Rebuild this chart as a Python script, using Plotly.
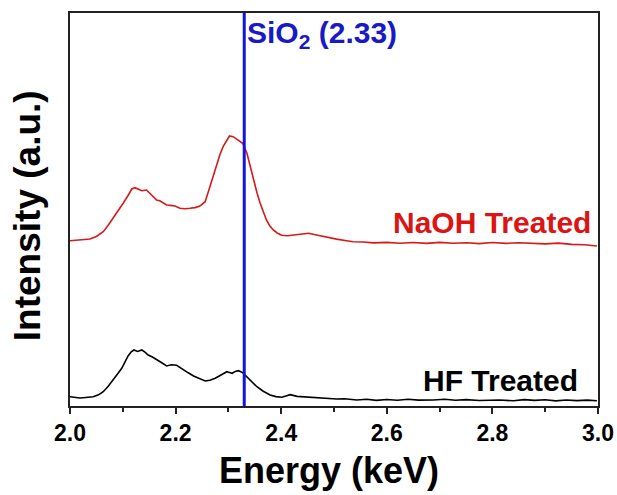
import plotly.graph_objects as go

# ---- data ----
energy_naoh = [2.000, 2.010, 2.019, 2.028, 2.038, 2.050, 2.063, 2.072, 2.082, 2.092, 2.101, 2.110,
               2.117, 2.123, 2.130, 2.136, 2.145, 2.150, 2.155, 2.164, 2.170, 2.176, 2.183, 2.190,
               2.199, 2.208, 2.218, 2.227, 2.237, 2.246, 2.256, 2.265, 2.272, 2.278, 2.284, 2.290,
               2.296, 2.302, 2.309, 2.316, 2.322, 2.327, 2.335, 2.341, 2.347, 2.354, 2.360, 2.366,
               2.372, 2.378, 2.385, 2.393, 2.401, 2.412, 2.423, 2.437, 2.452, 2.469, 2.486, 2.505,
               2.524, 2.536, 2.555, 2.575, 2.600, 2.625, 2.650, 2.675, 2.700, 2.725, 2.751, 2.775,
               2.800, 2.825, 2.850, 2.877, 2.900, 2.925, 2.950, 2.975, 2.998]
int_naoh = [165.3, 165.8, 166.0, 166.4, 167.0, 169.5, 174.3, 180.5, 188.0, 195.5, 203.0, 210.5,
            217.0, 218.3, 217.0, 215.3, 216.0, 213.2, 211.0, 206.0, 205.3, 203.6, 201.0, 200.6,
            200.0, 197.7, 197.2, 197.7, 198.4, 200.0, 204.3, 219.3, 232.0, 243.0, 251.5, 259.3,
            265.0, 270.0, 269.3, 266.7, 265.2, 262.7, 253.0, 240.0, 226.0, 213.5, 203.0, 194.0,
            186.0, 180.5, 176.0, 172.8, 170.7, 170.2, 170.7, 171.6, 172.7, 170.8, 168.7, 166.9,
            165.3, 164.3, 164.0, 163.1, 163.6, 162.7, 163.5, 162.6, 163.6, 162.8, 163.3, 162.4,
            163.5, 162.6, 163.2, 162.7, 162.1, 162.9, 161.6, 161.2, 160.0]

energy_hf = [2.000, 2.010, 2.019, 2.030, 2.044, 2.054, 2.063, 2.072, 2.082, 2.090, 2.098, 2.104,
             2.110, 2.116, 2.121, 2.128, 2.136, 2.142, 2.148, 2.156, 2.164, 2.173, 2.183, 2.192,
             2.202, 2.208, 2.215, 2.224, 2.234, 2.245, 2.256, 2.265, 2.275, 2.286, 2.297, 2.302,
             2.307, 2.313, 2.319, 2.327, 2.335, 2.344, 2.354, 2.366, 2.379, 2.390, 2.401, 2.409,
             2.417, 2.430, 2.442, 2.455, 2.470, 2.485, 2.505, 2.520, 2.543, 2.562, 2.580, 2.600,
             2.620, 2.640, 2.660, 2.688, 2.710, 2.730, 2.750, 2.775, 2.800, 2.814, 2.840, 2.860,
             2.880, 2.900, 2.920, 2.940, 2.960, 2.980, 2.998]
int_hf = [9.3, 8.6, 8.0, 8.5, 9.3, 11.2, 14.3, 19.5, 26.0, 32.0, 37.7, 44.0,
          50.0, 54.2, 56.0, 54.5, 56.0, 53.8, 51.0, 49.0, 46.7, 43.5, 40.0, 41.2,
          40.7, 38.5, 36.0, 33.2, 30.0, 27.3, 25.0, 25.8, 27.7, 31.0, 34.3, 33.5,
          32.7, 34.6, 35.3, 33.4, 29.3, 24.5, 19.3, 14.8, 11.0, 9.4, 8.7, 10.1,
          11.3, 9.6, 9.2, 8.3, 8.0, 7.6, 7.0, 7.3, 6.0, 6.7, 5.6, 6.5,
          5.8, 6.7, 5.9, 6.0, 6.8, 5.7, 6.4, 5.5, 6.3, 6.0, 5.2, 6.4,
          5.6, 6.2, 5.1, 6.0, 5.4, 5.9, 5.3]

sio2_energy = 2.33
x_ticks = [2.0, 2.2, 2.4, 2.6, 2.8, 3.0]
x_tick_labels = ["2.0", "2.2", "2.4", "2.6", "2.8", "3.0"]
y_range = [0, 393]

FONT = "Liberation Sans, Arial, sans-serif"

fig = go.Figure()
fig.add_trace(go.Scatter(x=energy_naoh, y=int_naoh, mode="lines",
                         line=dict(color="rgb(215,25,25)", width=1.6), showlegend=False))
fig.add_trace(go.Scatter(x=energy_hf, y=int_hf, mode="lines",
                         line=dict(color="black", width=1.6), showlegend=False))
fig.add_trace(go.Scatter(x=[sio2_energy, sio2_energy], y=y_range, mode="lines",
                         line=dict(color="rgb(20,20,225)", width=3), showlegend=False))

fig.add_annotation(x=sio2_energy, y=y_range[1], xref="x", yref="y", xanchor="left", yanchor="top",
                   xshift=1, yshift=-1, showarrow=False,
                   text="<b>SiO<sub>2</sub> (2.33)</b>",
                   font=dict(family=FONT, size=30, color="rgb(25,25,200)"))
fig.add_annotation(x=2.990, y=165, xref="x", yref="y", xanchor="right", yanchor="bottom",
                   showarrow=False, text="<b>NaOH Treated</b>",
                   font=dict(family=FONT, size=30, color="rgb(220,20,20)"))
fig.add_annotation(x=2.965, y=7, xref="x", yref="y", xanchor="right", yanchor="bottom",
                   showarrow=False, text="<b>HF Treated</b>",
                   font=dict(family=FONT, size=30, color="black"))
fig.add_annotation(x=-0.080, y=0.485, xref="paper", yref="paper", xanchor="center", yanchor="middle",
                   showarrow=False, textangle=-90, text="<b>Intensity (a.u.)</b>",
                   font=dict(family=FONT, size=37, color="black"))
fig.add_annotation(x=0.49, y=-0.165, xref="paper", yref="paper", xanchor="center", yanchor="middle",
                   showarrow=False, text="<b>Energy (keV)</b>",
                   font=dict(family=FONT, size=36, color="black"))

fig.update_layout(
    width=617, height=495,
    margin=dict(l=70, r=19, t=13, b=89, autoexpand=False),
    paper_bgcolor="white", plot_bgcolor="white",
    font=dict(family=FONT, color="black"),
    xaxis=dict(range=[2.0, 3.0], tickvals=x_ticks, ticktext=x_tick_labels, automargin=False,
               ticks="outside", ticklen=6, tickwidth=1.5, tickcolor="#222",
               minor=dict(dtick=0.1, tick0=2.0, ticks="outside", ticklen=4, tickwidth=1.5, tickcolor="#222"),
               showline=True, linecolor="#222", linewidth=1.5, mirror=True,
               showgrid=False, zeroline=False,
               tickfont=dict(family=FONT, size=23, color="black", weight="bold")),
    yaxis=dict(range=y_range, showticklabels=False, ticks="", automargin=False,
               showline=True, linecolor="#222", linewidth=1.5, mirror=True,
               showgrid=False, zeroline=False),
)

# remove the page's default 8px body margin so the figure fills the window exactly
fig.write_html("out.html",
               config={"displayModeBar": False},
               post_script="document.body.style.margin='0px';document.body.style.overflow='hidden';")
